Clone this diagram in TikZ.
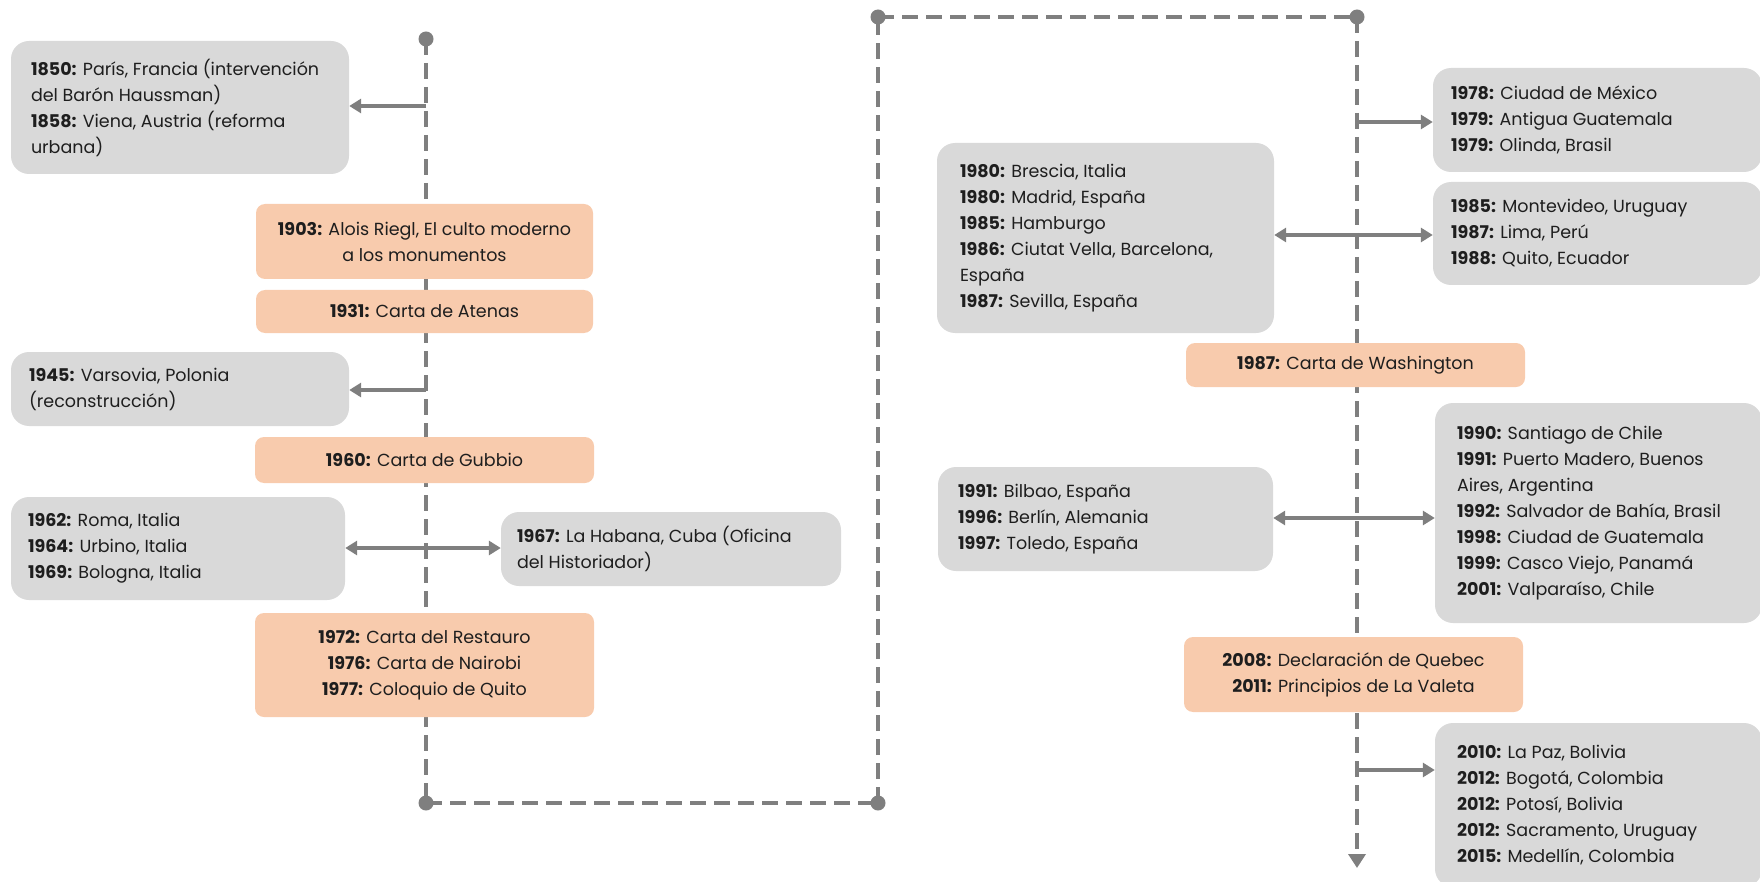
\documentclass[tikz,border=0pt]{standalone}
\usepackage{fontspec}
\setmainfont{Poppins}
\usetikzlibrary{arrows.meta}
\definecolor{boxgrey}{HTML}{D9D9D9}
\definecolor{peach}{HTML}{F8CBAD}
\definecolor{linegrey}{HTML}{7F7F7F}
\definecolor{ink}{HTML}{1E1E1E}
\newcommand\tlfont{\fontsize{17.5}{26}\selectfont}
\begin{document}
\begin{tikzpicture}[x=1pt,y=-1pt,
  gbox/.style={fill=boxgrey, rounded corners=18pt, inner sep=0pt},
  obox/.style={fill=peach, rounded corners=9pt, inner sep=0pt, align=center, text=ink, font=\tlfont},
  gtext/.style={anchor=west, align=left, inner sep=0pt, text=ink, font=\tlfont},
  tl/.style={draw=linegrey, line width=4.8pt, dash pattern=on 16pt off 8pt},
  arr/.style={draw=linegrey, line width=3.8pt, -{Triangle[length=12pt,width=14pt]}},
  darr/.style={draw=linegrey, line width=3.8pt, {Triangle[length=12pt,width=14pt]}-{Triangle[length=12pt,width=14pt]}},
  dot/.style={fill=linegrey}
]
\useasboundingbox (0,0) rectangle (1760,882);
% timeline
\coordinate (d1) at (426,39);
\coordinate (d2) at (426,803);
\coordinate (d3) at (878,803);
\coordinate (d4) at (878,17);
\coordinate (d5) at (1357,17);
\coordinate (tip) at (1357,868);
\draw[tl] (d1) -- (d2);
\draw[tl] (d2) -- (d3);
\draw[tl] (d3) -- (d4);
\draw[tl] (d4) -- (d5);
\draw[tl, -{Triangle[length=14pt,width=17pt]}] (d5) -- (tip);
\foreach \d in {d1,d2,d3,d4,d5} \fill[dot] (\d) circle (7.5pt);

% left column
\node[gbox, minimum width=338, minimum height=133] (b1850) at (180,107.5) {};
\node[gtext] (t1850) at ([xshift=20]b1850.west) {\textbf{1850:} París, Francia (intervención\\del Barón Haussman)\\\textbf{1858:} Viena, Austria (reforma\\urbana)};
\node[obox, minimum width=337, minimum height=75] (o1903) at (424.5,241.5) {\textbf{1903:} Alois Riegl, El culto moderno\\a los monumentos};
\node[obox, minimum width=337, minimum height=43] (o1931) at (424.5,311.5) {\textbf{1931:} Carta de Atenas};
\node[gbox, minimum width=338, minimum height=74] (b1945) at (180,389) {};
\node[gtext] (t1945) at ([xshift=18]b1945.west) {\textbf{1945:} Varsovia, Polonia\\(reconstrucción)};
\node[obox, minimum width=339, minimum height=46] (o1960) at (424.5,460) {\textbf{1960:} Carta de Gubbio};
\node[gbox, minimum width=334, minimum height=103] (b1962) at (178,548.5) {};
\node[gtext] (t1962) at ([xshift=17]b1962.west) {\textbf{1962:} Roma, Italia\\\textbf{1964:} Urbino, Italia\\\textbf{1969:} Bologna, Italia};
\node[gbox, minimum width=340, minimum height=74] (b1967) at (671,549) {};
\node[gtext] (t1967) at ([xshift=16]b1967.west) {\textbf{1967:} La Habana, Cuba (Oficina\\del Historiador)};
\node[obox, minimum width=339, minimum height=104] (o1972) at (424.5,665) {\textbf{1972:} Carta del Restauro\\\textbf{1976:} Carta de Nairobi\\\textbf{1977:} Coloquio de Quito};

% right column
\node[gbox, minimum width=329, minimum height=104] (b1978) at (1597.5,120) {};
\node[gtext] (t1978) at ([xshift=18]b1978.west) {\textbf{1978:} Ciudad de México\\\textbf{1979:} Antigua Guatemala\\\textbf{1979:} Olinda, Brasil};
\node[gbox, minimum width=337, minimum height=190] (b1980) at (1105.5,238) {};
\node[gtext] (t1980) at ([xshift=23]b1980.west) {\textbf{1980:} Brescia, Italia\\\textbf{1980:} Madrid, España\\\textbf{1985:} Hamburgo\\\textbf{1986:} Ciutat Vella, Barcelona,\\España\\\textbf{1987:} Sevilla, España};
\node[gbox, minimum width=329, minimum height=103] (b1985) at (1597.5,233.5) {};
\node[gtext] (t1985) at ([xshift=18]b1985.west) {\textbf{1985:} Montevideo, Uruguay\\\textbf{1987:} Lima, Perú\\\textbf{1988:} Quito, Ecuador};
\node[obox, minimum width=339, minimum height=44] (o1987) at (1355.5,365) {\textbf{1987:} Carta de Washington};
\node[gbox, minimum width=335, minimum height=104] (b1991) at (1105.5,519) {};
\node[gtext] (t1991) at ([xshift=20]b1991.west) {\textbf{1991:} Bilbao, España\\\textbf{1996:} Berlín, Alemania\\\textbf{1997:} Toledo, España};
\node[gbox, minimum width=327, minimum height=220] (b1990) at (1598.5,513) {};
\node[gtext] (t1990) at ([xshift=22]b1990.west) {\textbf{1990:} Santiago de Chile\\\textbf{1991:} Puerto Madero, Buenos\\Aires, Argentina\\\textbf{1992:} Salvador de Bahía, Brasil\\\textbf{1998:} Ciudad de Guatemala\\\textbf{1999:} Casco Viejo, Panamá\\\textbf{2001:} Valparaíso, Chile};
\node[obox, minimum width=339, minimum height=75] (o2008) at (1353.5,674.5) {\textbf{2008:} Declaración de Quebec\\\textbf{2011:} Principios de La Valeta};
\node[gbox, minimum width=327, minimum height=164] (b2010) at (1598.5,805) {};
\node[gtext] (t2010) at ([xshift=22]b2010.west) {\textbf{2010:} La Paz, Bolivia\\\textbf{2012:} Bogotá, Colombia\\\textbf{2012:} Potosí, Bolivia\\\textbf{2012:} Sacramento, Uruguay\\\textbf{2015:} Medellín, Colombia};

% connectors
\coordinate (c1) at (426,106);
\coordinate (c2) at (426,390);
\coordinate (c3) at (426,548);
\coordinate (c4) at (1357,122);
\coordinate (c5) at (1357,235);
\coordinate (c6) at (1357,518);
\coordinate (c7) at (1357,770);
\draw[arr] (c1) -- (c1 -| b1850.east);
\draw[arr] (c2) -- (c2 -| b1945.east);
\draw[darr] (c3 -| b1962.east) -- (c3 -| b1967.west);
\draw[arr] (c4) -- (c4 -| b1978.west);
\draw[darr] (c5 -| b1980.east) -- (c5 -| b1985.west);
\draw[darr] (c6 -| b1991.east) -- (c6 -| b1990.west);
\draw[arr] (c7) -- (c7 -| b2010.west);
\end{tikzpicture}
\end{document}
